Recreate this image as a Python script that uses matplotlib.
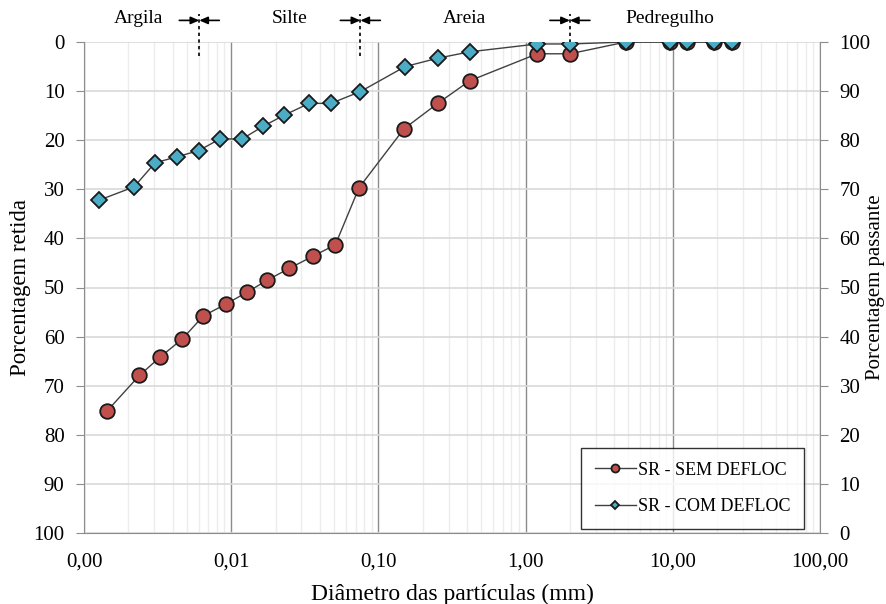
import matplotlib
matplotlib.use("Agg")
import matplotlib.pyplot as plt
from matplotlib.ticker import FixedLocator, FuncFormatter, LogLocator, NullFormatter
from matplotlib.transforms import blended_transform_factory

plt.rcParams['font.family'] = ['Liberation Serif', 'DejaVu Serif']

# Data
diam_sem = [0.00143, 0.00238, 0.00328, 0.00465, 0.00646, 0.00918, 0.0129, 0.0176, 0.0248,
            0.0361, 0.051, 0.0738, 0.149, 0.253, 0.417, 1.2, 2.0, 4.8, 9.5, 12.5, 19.0, 25.4]
ret_sem = [75.2, 67.9, 64.2, 60.5, 55.8, 53.4, 50.9, 48.5, 46.1,
           43.6, 41.3, 29.7, 17.7, 12.5, 7.9, 2.4, 2.4, 0, 0, 0, 0, 0]
diam_com = [0.00127, 0.00219, 0.00304, 0.00426, 0.00604, 0.00843, 0.0118, 0.0164, 0.0229,
            0.0339, 0.0476, 0.0754, 0.152, 0.253, 0.417, 1.2, 2.0, 4.8, 9.5, 12.5, 19.0, 25.4]
ret_com = [32.2, 29.5, 24.6, 23.4, 22.1, 19.7, 19.8, 17.2, 14.9,
           12.5, 12.5, 10.1, 5.0, 3.3, 2.0, 0.4, 0.4, 0, 0, 0, 0, 0]
labels = ["SR - SEM DEFLOC", "SR - COM DEFLOC"]
x_ticks = [0.001, 0.01, 0.1, 1, 10, 100]
y_ticks = [0, 10, 20, 30, 40, 50, 60, 70, 80, 90, 100]
zones = ["Argila", "Silte", "Areia", "Pedregulho"]
zone_pos = [0.00233, 0.0251, 0.387, 9.57]
bounds = [0.00607, 0.0754, 2.0]

fig = plt.figure(figsize=(8.87, 6.04), dpi=100)
ax = fig.add_axes([84/887, 71/604, 736/887, 491/604])

ax.set_xscale('log')
ax.set_xlim(0.001, 100)
ax.set_ylim(100, 0)

# grid
ax.xaxis.set_minor_locator(LogLocator(base=10, subs=range(2, 10)))
ax.xaxis.set_minor_formatter(NullFormatter())
ax.grid(which='minor', axis='x', color='#ececec', lw=1.0)
ax.grid(which='major', axis='x', color='#8c8c8c', lw=1.0)
ax.grid(which='major', axis='y', color='#d9d9d9', lw=1.2)
ax.set_axisbelow(True)

ax.plot(diam_sem, ret_sem, '-', color='#404040', lw=1.0, marker='o', ms=10.5,
        mfc='#C0504D', mec='#1a1a1a', mew=1.3, label=labels[0], zorder=3)
ax.plot(diam_com, ret_com, '-', color='#404040', lw=1.0, marker='D', ms=8,
        mfc='#4BACC6', mec='#1a1a1a', mew=1.3, label=labels[1], zorder=4)

ax.xaxis.set_major_locator(FixedLocator(x_ticks))
ax.xaxis.set_major_formatter(FuncFormatter(lambda v, p: f"{v:.2f}".replace('.', ',')))
ax.set_yticks(y_ticks)
ax.tick_params(axis='x', which='both', length=0, labelsize=15, pad=14, colors='#000000')
ax.tick_params(axis='y', length=6, color='#8c8c8c', labelsize=15, pad=8)
for s in ['top', 'right']:
    ax.spines[s].set_visible(False)
for s in ['left', 'bottom']:
    ax.spines[s].set_color('#8c8c8c')

ax.set_xlabel("Diâmetro das partículas (mm)", fontsize=17, labelpad=9)
ax.set_ylabel("Porcentagem retida", fontsize=16.5, va='center')
ax.yaxis.set_label_coords((21 - 84) / 736, 0.5)

ax2 = ax.twinx()
ax2.set_ylim(0, 100)
ax2.set_yticks(y_ticks)
ax2.tick_params(axis='y', length=6, color='#8c8c8c', labelsize=15, pad=8)
for s in ['top', 'left', 'bottom']:
    ax2.spines[s].set_visible(False)
ax2.spines['right'].set_color('#8c8c8c')
ax2.set_ylabel("Porcentagem passante", fontsize=15, va='center')
ax2.yaxis.set_label_coords((876 - 84) / 736, 0.5)

# zone annotations
tr = blended_transform_factory(ax.transData, ax.transAxes)
for name, xp in zip(zones, zone_pos):
    ax.text(xp, 1.048, name, transform=tr, ha='center', va='center', fontsize=14, clip_on=False)
fac = 10 ** (20 / 147.2)
for b in bounds:
    ax.plot([b, b], [0.971, 1.058], transform=tr, color='black', lw=1.2,
            ls=(0, (2, 2)), clip_on=False)
    ax.annotate('', xy=(b, 1.044), xytext=(b / fac, 1.044), xycoords=tr, textcoords=tr,
                arrowprops=dict(arrowstyle='-|>,head_length=0.5,head_width=0.22', color='black',
                                lw=1.2, shrinkA=0, shrinkB=0))
    ax.annotate('', xy=(b, 1.044), xytext=(b * fac, 1.044), xycoords=tr, textcoords=tr,
                arrowprops=dict(arrowstyle='-|>,head_length=0.5,head_width=0.22', color='black',
                                lw=1.2, shrinkA=0, shrinkB=0))

leg = ax2.legend(*ax.get_legend_handles_labels(), loc='lower right',
                 bbox_to_anchor=(804/887, 75/604), bbox_transform=fig.transFigure,
                 borderaxespad=0, fontsize=13, frameon=True, fancybox=False, edgecolor='black',
                 labelspacing=1.1, handlelength=2.3, borderpad=0.75, handletextpad=0.1,
                 markerscale=0.55)
leg.get_frame().set_linewidth(1.0)

fig.savefig("out.png", dpi=100)
